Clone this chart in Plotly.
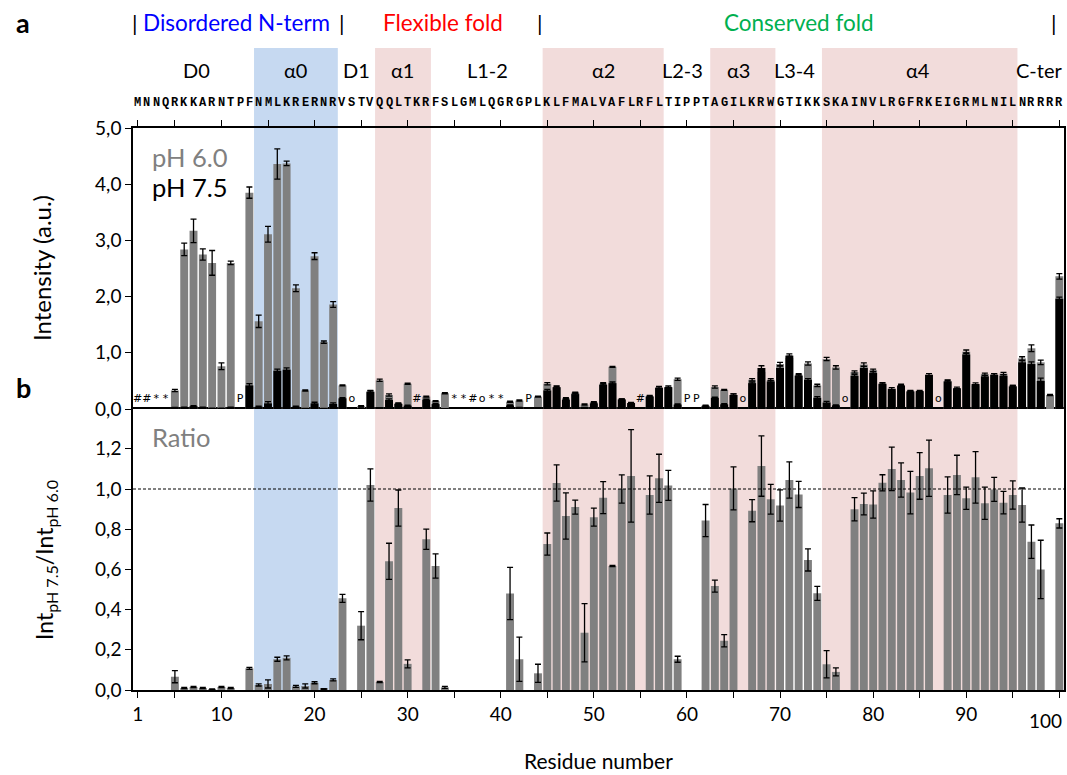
import plotly.graph_objects as go

N = None
residue = list(range(1, 101))
sequence = list("MNNQRKKARN" "TPFNMLKRERNRVSTVQQLT" "KRFSLGMLQGRGPLKLFMAL"
                "VAFLRFLTIPPTAGILKRWG" "TIKKSKAINVLRGFRKEIGRMLNILNRRRR")

# Intensity at pH 6.0
int_ph60 = [
    N, N, N, N, 0.33, 2.84, 3.17, 2.75, 2.60, 0.76,
    2.60, N, 3.85, 1.56, 3.11, 4.36, 4.37, 2.15, 0.33, 2.72,
    1.19, 1.86, 0.42, N, 0.05, 0.30, 0.51, 0.25, 0.10, 0.45,
    N, 0.22, 0.14, 0.28, N, N, N, N, N, N,
    0.13, 0.15, N, 0.22, 0.45, 0.38, 0.19, 0.29, 0.08, 0.12,
    0.45, 0.75, 0.17, 0.10, N, 0.23, 0.36, 0.38, 0.53, N,
    N, 0.06, 0.39, 0.34, 0.25, N, 0.52, 0.66, 0.52, 0.80,
    0.91, 0.61, 0.81, 0.42, 0.89, 0.74, N, 0.66, 0.79, 0.69,
    0.44, 0.33, 0.40, 0.32, 0.30, 0.55, N, 0.50, 0.35, 1.02,
    0.42, 0.62, 0.61, 0.63, 0.41, 0.90, 1.08, 0.83, 0.25, 2.36,
]
err_ph60 = [
    N, N, N, N, 0.02, 0.11, 0.21, 0.10, 0.22, 0.06,
    0.03, N, 0.10, 0.11, 0.14, 0.27, 0.04, 0.06, 0.01, 0.06,
    0.02, 0.05, 0.01, N, 0.01, 0.02, 0.02, 0.02, 0.01, 0.01,
    N, 0.01, 0.01, 0.01, N, N, N, N, N, N,
    0.01, 0.01, N, 0.01, 0.02, 0.02, 0.01, 0.01, 0.01, 0.01,
    0.02, 0.01, 0.01, 0.01, N, 0.01, 0.01, 0.01, 0.02, N,
    N, 0.01, 0.02, 0.01, 0.02, N, 0.02, 0.05, 0.02, 0.03,
    0.03, 0.02, 0.03, 0.02, 0.03, 0.03, N, 0.02, 0.03, 0.02,
    0.02, 0.01, 0.02, 0.01, 0.01, 0.02, N, 0.02, 0.01, 0.03,
    0.01, 0.02, 0.02, 0.02, 0.01, 0.03, 0.06, 0.04, 0.01, 0.05,
]
# Intensity at pH 7.5
int_ph75 = [
    N, N, N, N, 0.022, 0.03, 0.05, 0.03, 0.01, 0.01,
    0.03, N, 0.42, 0.04, 0.10, 0.68, 0.70, 0.04, 0.007, 0.10,
    0.006, 0.09, 0.19, N, 0.016, 0.31, 0.02, 0.16, 0.09, 0.06,
    N, 0.165, 0.087, 0.004, N, N, N, N, N, N,
    0.063, 0.023, N, 0.018, 0.33, 0.39, 0.165, 0.265, 0.023, 0.10,
    0.43, 0.46, 0.17, 0.106, N, 0.22, 0.38, 0.39, 0.08, N,
    N, 0.05, 0.20, 0.083, 0.25, N, 0.46, 0.73, 0.49, 0.73,
    0.95, 0.59, 0.52, 0.20, 0.115, 0.065, N, 0.59, 0.73, 0.64,
    0.45, 0.36, 0.42, 0.31, 0.32, 0.61, N, 0.49, 0.37, 0.97,
    0.445, 0.58, 0.61, 0.59, 0.40, 0.83, 0.80, 0.50, N, 1.96,
]
err_ph75 = [
    N, N, N, N, 0.005, 0.005, 0.01, 0.005, 0.005, 0.005,
    0.005, N, 0.03, 0.01, 0.03, 0.03, 0.03, 0.01, 0.003, 0.02,
    0.003, 0.02, 0.01, N, 0.005, 0.02, 0.005, 0.02, 0.01, 0.01,
    N, 0.01, 0.01, 0.002, N, N, N, N, N, N,
    0.01, 0.005, N, 0.005, 0.02, 0.02, 0.01, 0.02, 0.005, 0.01,
    0.02, 0.02, 0.01, 0.01, N, 0.01, 0.02, 0.02, 0.01, N,
    N, 0.01, 0.01, 0.01, 0.02, N, 0.02, 0.04, 0.02, 0.04,
    0.03, 0.02, 0.02, 0.02, 0.02, 0.01, N, 0.02, 0.03, 0.02,
    0.02, 0.02, 0.02, 0.01, 0.01, 0.02, N, 0.02, 0.02, 0.03,
    0.02, 0.02, 0.02, 0.02, 0.02, 0.03, 0.04, 0.05, N, 0.03,
]
# Ratio Int(pH 7.5) / Int(pH 6.0)
ratio = [
    N, N, N, N, 0.066, 0.010, 0.015, 0.010, 0.004, 0.015,
    0.010, N, 0.108, 0.025, 0.030, 0.153, 0.160, 0.018, 0.020, 0.036,
    0.005, 0.050, 0.456, N, 0.320, 1.020, 0.040, 0.640, 0.905, 0.130,
    N, 0.750, 0.617, 0.013, N, N, N, N, N, N,
    0.480, 0.153, N, 0.083, 0.726, 1.030, 0.866, 0.910, 0.285, 0.860,
    0.957, 0.617, 1.000, 1.065, N, 0.970, 1.053, 1.018, 0.153, N,
    N, 0.843, 0.517, 0.245, 1.003, N, 0.892, 1.114, 0.949, 0.918,
    1.045, 0.973, 0.647, 0.481, 0.128, 0.090, N, 0.899, 0.925, 0.923,
    1.031, 1.100, 1.045, 0.982, 1.065, 1.103, N, 0.970, 1.070, 0.954,
    1.058, 0.929, 0.998, 0.932, 0.970, 0.920, 0.738, 0.600, N, 0.829,
]
ratio_err = [
    N, N, N, N, 0.03, 0.003, 0.003, 0.003, 0.002, 0.003,
    0.003, N, 0.005, 0.005, 0.02, 0.01, 0.01, 0.005, 0.01, 0.005,
    0.002, 0.005, 0.02, N, 0.07, 0.08, 0.003, 0.09, 0.09, 0.02,
    N, 0.05, 0.06, 0.005, N, N, N, N, N, N,
    0.13, 0.11, N, 0.045, 0.055, 0.09, 0.115, 0.035, 0.145, 0.045,
    0.08, 0.003, 0.07, 0.23, N, 0.095, 0.12, 0.075, 0.015, N,
    N, 0.08, 0.03, 0.03, 0.107, N, 0.055, 0.15, 0.074, 0.078,
    0.09, 0.065, 0.055, 0.035, 0.068, 0.02, N, 0.058, 0.054, 0.068,
    0.04, 0.108, 0.085, 0.106, 0.116, 0.14, N, 0.09, 0.098, 0.055,
    0.128, 0.08, 0.06, 0.056, 0.07, 0.085, 0.083, 0.145, N, 0.023,
]

# residues without data and their marker
flag_res = [1, 2, 3, 4, 12, 24, 31, 35, 36, 37, 38, 39, 40, 43, 55, 60, 61, 66, 77, 87]
flag_sym = ["#", "#", "*", "*", "P", "o", "#", "*", "*", "#", "o", "*", "*", "P", "#", "P", "P", "o", "o", "o"]

# secondary structure
helix_start = [14, 27, 45, 63, 75]
helix_end = [22, 32, 57, 69, 95]
helix_color = ["#C6D9F1", "#F2DCDB", "#F2DCDB", "#F2DCDB", "#F2DCDB"]
region_names = ["D0", "α0", "D1", "α1", "L1-2", "α2", "L2-3", "α3", "L3-4", "α4"]
region_center = [7.3, 18.0, 24.5, 29.5, 38.6, 51.0, 59.5, 65.5, 71.6, 84.8]
last_region = "C-ter"

domain_names = ["Disordered N-term", "Flexible fold", "Conserved fold"]
domain_center = [11.6, 33.8, 72.0]
domain_colors = ["#0000FF", "#FF0000", "#00B050"]
domain_bars = [0.75, 23.0, 44.2, 99.4]

ytick_a = [0, 1, 2, 3, 4, 5]
ytick_b = [0.0, 0.2, 0.4, 0.6, 0.8, 1.0, 1.2]
xtick_vals = [1] + list(range(5, 101, 5))
xtick_text = [str(v) if (v == 1 or v % 10 == 0) and v != 100 else " " for v in xtick_vals]
last_tick = 100

FONT = "Lato"
fig = go.Figure()

eb = dict(type="data", color="black", thickness=1.3, width=3)
fig.add_trace(go.Bar(x=residue, y=int_ph60, width=0.85, marker=dict(color="#808080", line_width=0),
                     error_y=dict(array=err_ph60, **eb), xaxis="x2", yaxis="y", name="pH 6.0"))
fig.add_trace(go.Bar(x=residue, y=int_ph75, width=0.85, marker=dict(color="#000000", line_width=0),
                     error_y=dict(array=err_ph75, **eb), xaxis="x2", yaxis="y", name="pH 7.5"))
fig.add_trace(go.Bar(x=residue, y=ratio, width=0.85, marker=dict(color="#808080", line_width=0),
                     error_y=dict(array=ratio_err, **eb), xaxis="x", yaxis="y2", name="Ratio"))
fig.add_trace(go.Scatter(x=flag_res, y=[0.17] * len(flag_res), mode="text", text=flag_sym,
                         textfont=dict(family="DejaVu Sans", size=11, color="#000000"),
                         xaxis="x2", yaxis="y", cliponaxis=False))

shapes = []
for s, e, c in zip(helix_start, helix_end, helix_color):
    shapes.append(dict(type="rect", xref="x", yref="paper", x0=s - 0.5, x1=e + 0.5, y0=0, y1=1.1423,
                       fillcolor=c, line_width=0, layer="below"))
shapes.append(dict(type="line", xref="paper", yref="y2", x0=0, x1=1, y0=1.0, y1=1.0,
                   line=dict(color="black", width=1, dash="3px,2px")))

ann = []
for r, ch in zip(residue, sequence):
    ann.append(dict(x=r, y=1.0445, xref="x", yref="paper", text="<b>" + ch + "</b>", showarrow=False,
                    font=dict(family="Liberation Mono", size=12, color="black"), xanchor="center", yanchor="middle"))
for name, xc in zip(region_names, region_center):
    ann.append(dict(x=xc, y=1.1032, xref="x", yref="paper", text=name, showarrow=False,
                    font=dict(family=FONT, size=20, color="black"), xanchor="center", yanchor="middle"))
ann.append(dict(x=1.0, y=1.1032, xref="paper", yref="paper", text=last_region, showarrow=False,
                font=dict(family=FONT, size=20, color="black"), xanchor="right", yanchor="middle"))
for name, xc, col in zip(domain_names, domain_center, domain_colors):
    ann.append(dict(x=xc, y=1.1886, xref="x", yref="paper", text=name, showarrow=False,
                    font=dict(family=FONT, size=22.5, color=col), xanchor="center", yanchor="middle"))
for xb in domain_bars:
    ann.append(dict(x=xb, y=1.1886, xref="x", yref="paper", text="|", showarrow=False,
                    font=dict(family=FONT, size=22, color="black"), xanchor="center", yanchor="middle"))
# last x tick label, kept inside the page
ann.append(dict(x=1.0, y=-0.0537, xref="paper", yref="paper", text=str(last_tick), showarrow=False,
                font=dict(family=FONT, size=19, color="black"), xanchor="right", yanchor="middle"))

ctr = dict(xanchor="center", yanchor="middle", showarrow=False, xref="paper", yref="paper")
lft = dict(xanchor="left", yanchor="middle", showarrow=False, xref="paper", yref="paper")
ann += [
    dict(x=-0.118, y=1.1886, text="<b>a</b>", font=dict(family=FONT, size=27, color="black"), **ctr),
    dict(x=-0.118, y=0.5374, text="<b>b</b>", font=dict(family=FONT, size=27, color="black"), **ctr),
    dict(x=0.018, y=0.9484, text="pH 6.0", font=dict(family=FONT, size=25.5, color="#808080"), **lft),
    dict(x=0.018, y=0.895, text="pH 7.5", font=dict(family=FONT, size=25.5, color="black"), **lft),
    dict(x=0.018, y=0.4502, text="Ratio", font=dict(family=FONT, size=25.5, color="#808080"), **lft),
    dict(x=-0.0977, y=0.7509, text="Intensity (a.u.)", textangle=-90,
         font=dict(family=FONT, size=24, color="black"), **ctr),
    dict(x=-0.0945, y=0.2313, text="Int<sub>pH 7.5</sub>/Int<sub>pH 6.0</sub>", textangle=-90,
         font=dict(family=FONT, size=23, color="black"), **ctr),
    dict(x=0.5, y=-0.1246, text="Residue number", font=dict(family=FONT, size=21, color="black"), **ctr),
]

axis_common = dict(showgrid=False, zeroline=False, showline=True, linecolor="black", linewidth=1.5,
                   ticks="outside", tickcolor="black", tickwidth=1.3, ticklen=6, automargin=False,
                   tickfont=dict(family=FONT, size=19, color="black"))

fig.update_layout(
    width=1067, height=775,
    margin=dict(l=133, r=3, t=128, b=85, autoexpand=False),
    paper_bgcolor="white", plot_bgcolor="rgba(0,0,0,0)",
    barmode="overlay", showlegend=False,
    xaxis=dict(domain=[0, 1], anchor="y2", range=[0.5, 100.5], tickmode="array",
               tickvals=xtick_vals, ticktext=xtick_text, mirror=True, **axis_common),
    xaxis2=dict(domain=[0, 1], anchor="y", matches="x", side="top", range=[0.5, 100.5], tickmode="array",
                tickvals=xtick_vals, showticklabels=False, **axis_common),
    yaxis=dict(domain=[0.5, 1], anchor="x2", range=[0, 5.0], tickmode="array", tickvals=ytick_a,
               ticktext=[f"{v:.1f}".replace(".", ",") for v in ytick_a], mirror=True, **axis_common),
    yaxis2=dict(domain=[0, 0.5], anchor="x", range=[0, 1.398], tickmode="array", tickvals=ytick_b,
                ticktext=[f"{v:.1f}".replace(".", ",") for v in ytick_b], mirror=True, **axis_common),
    shapes=shapes, annotations=ann,
)

fig.write_html("out.html", config={"displayModeBar": False},
               post_script="document.body.style.margin='0';document.body.style.overflow='hidden';")
